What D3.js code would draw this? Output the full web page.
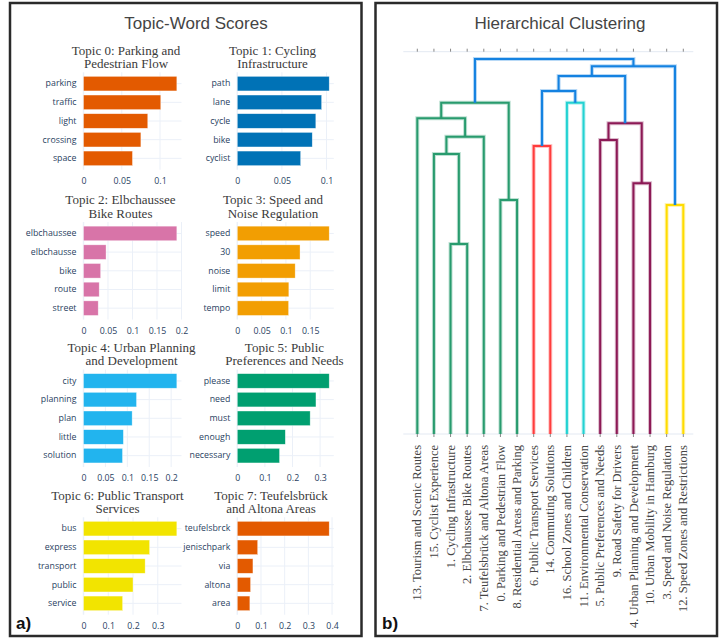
<!DOCTYPE html>
<html><head><meta charset="utf-8">
<script src="https://cdn.jsdelivr.net/npm/d3@7/dist/d3.min.js"></script>
<style>body{margin:0;background:#fff}svg{display:block}</style>
</head><body>
<svg id="chart" width="719" height="639"></svg>
<script>
// ---------- Data: topic-word scores ----------
const topicTitles = [
  ["Topic 0: Parking and", "Pedestrian Flow"],
  ["Topic 1: Cycling", "Infrastructure"],
  ["Topic 2: Elbchaussee", "Bike Routes"],
  ["Topic 3: Speed and", "Noise Regulation"],
  ["Topic 4: Urban Planning", "and Development"],
  ["Topic 5: Public", "Preferences and Needs"],
  ["Topic 6: Public Transport", "Services"],
  ["Topic 7: Teufelsbrück", "and Altona Areas"]
];
const topicWords = [
  ["parking", "traffic", "light", "crossing", "space"],
  ["path", "lane", "cycle", "bike", "cyclist"],
  ["elbchaussee", "elbchausse", "bike", "route", "street"],
  ["speed", "30", "noise", "limit", "tempo"],
  ["city", "planning", "plan", "little", "solution"],
  ["please", "need", "must", "enough", "necessary"],
  ["bus", "express", "transport", "public", "service"],
  ["teufelsbrck", "jenischpark", "via", "altona", "area"]
];
const topicScores = [
  [0.122, 0.101, 0.084, 0.075, 0.064],
  [0.103, 0.0945, 0.088, 0.084, 0.071],
  [0.1905, 0.046, 0.035, 0.032, 0.030],
  [0.189, 0.129, 0.119, 0.106, 0.1055],
  [0.213, 0.121, 0.111, 0.091, 0.089],
  [0.333, 0.285, 0.264, 0.174, 0.153],
  [0.377, 0.267, 0.249, 0.200, 0.158],
  [0.388, 0.086, 0.066, 0.056, 0.053]
];
const topicColors = ["#E35A00", "#0072B6", "#D874A8", "#F29E02", "#22B4EE", "#009F70", "#F2E400", "#E35A00"];
const topicTicks = [
  [0, 0.05, 0.1],
  [0, 0.05, 0.1],
  [0, 0.05, 0.1, 0.15, 0.2],
  [0, 0.05, 0.1, 0.15],
  [0, 0.05, 0.1, 0.15, 0.2],
  [0, 0.1, 0.2, 0.3],
  [0, 0.1, 0.2, 0.3],
  [0, 0.1, 0.2, 0.3, 0.4]
];

// ---------- Data: hierarchical clustering ----------
const leafLabels = [
  "13. Tourism and Scenic Routes",
  "15. Cyclist Experience",
  "1. Cycling Infrastructure",
  "2. Elbchaussee Bike Routes",
  "7. Teufelsbrück and Altona Areas",
  "0. Parking and Pedestrian Flow",
  "8. Residential Areas and Parking",
  "6. Public Transport Services",
  "14. Commuting Solutions",
  "16. School Zones and Children",
  "11. Environmental Conservation",
  "5. Public Preferences and Needs",
  "9. Road Safety for Drivers",
  "4. Urban Planning and Development",
  "10. Urban Mobility in Hamburg",
  "3. Speed and Noise Regulation",
  "12. Speed Zones and Restrictions"
];
// merges: [left node, right node, distance, colour key]; leaves are 0..16, merged nodes get ids 17..
const mergeLeft   = [2, 15, 5, 13, 1, 7, 11, 21, 23, 0, 26, 9, 22, 29, 30, 27];
const mergeRight  = [3, 16, 6, 14, 17, 8, 12, 4, 20, 24, 19, 10, 28, 25, 18, 31];
const mergeDist   = [0.507, 0.611, 0.624, 0.6685, 0.747, 0.768, 0.784, 0.793, 0.8285, 0.842, 0.8835, 0.8835, 0.915, 0.955, 0.9805, 1.0];
const mergeColor  = ["g", "y", "g", "m", "g", "r", "m", "g", "m", "g", "g", "c", "b", "b", "b", "b"];
const clusterColors = {b: "rgb(20,130,225)", c: "rgb(35,210,210)", g: "rgb(40,155,110)", m: "rgb(140,25,85)", r: "rgb(255,60,60)", y: "rgb(255,220,0)"};

// ---------- Drawing ----------
const svg = d3.select("#chart");
const tickFont = "'Open Sans', 'Liberation Sans', Arial, sans-serif";
const serif = "'Liberation Serif', 'Times New Roman', serif";
const sans = "'Liberation Sans', Arial, sans-serif";

// panel frames
svg.append("rect").attr("x", 10).attr("y", 3).attr("width", 351.5).attr("height", 633)
  .attr("fill", "none").attr("stroke", "#2a2a2a").attr("stroke-width", 2.5);
svg.append("rect").attr("x", 375.5).attr("y", 3).attr("width", 341.5).attr("height", 633)
  .attr("fill", "none").attr("stroke", "#2a2a2a").attr("stroke-width", 2.5);

svg.append("text").attr("x", 196).attr("y", 28.5).attr("text-anchor", "middle")
  .style("font-family", sans).style("font-size", "17px").attr("fill", "#444").text("Topic-Word Scores");
svg.append("text").attr("x", 560).attr("y", 28.5).attr("text-anchor", "middle")
  .style("font-family", sans).style("font-size", "17px").attr("fill", "#444").text("Hierarchical Clustering");

svg.append("text").attr("x", 16).attr("y", 629).style("font-family", sans).style("font-weight", "bold")
  .style("font-size", "17px").attr("fill", "#111").text("a)");
svg.append("text").attr("x", 382).attr("y", 629).style("font-family", sans).style("font-weight", "bold")
  .style("font-size", "17px").attr("fill", "#111").text("b)");

// layout of the bar subplots
const colX0 = [83.5, 237.3];
const colW = [98, 96.5];
const rowTop = [82, 231.8, 379.3, 527];
const titleCX = [126, 272.5, 120.5, 273, 131.5, 284.5, 117.5, 271];
const rowStep = 19.5;

topicWords.forEach((words, i) => {
  const col = i % 2, row = Math.floor(i / 2);
  const scores = topicScores[i];
  const x0 = colX0[col], w = colW[col];
  const yTop = rowTop[row] - rowStep / 2;
  const yBot = rowTop[row] + rowStep * (words.length - 1) + rowStep / 2;
  const x = d3.scaleLinear().domain([0, d3.max(scores) * 1.05]).range([x0, x0 + w]);
  const y = d3.scaleBand().domain(words).range([yTop, yBot]).padding(0.22);
  const g = svg.append("g");

  // grid
  g.selectAll("line.vg").data(topicTicks[i]).join("line")
    .attr("x1", d => x(d)).attr("x2", d => x(d)).attr("y1", yTop).attr("y2", yBot)
    .attr("stroke", "#EBF0F8").attr("stroke-width", d => d === 0 ? 1.5 : 1);
  g.selectAll("line.hg").data(words).join("line")
    .attr("x1", x0).attr("x2", x0 + w)
    .attr("y1", d => y(d) + y.bandwidth() / 2).attr("y2", d => y(d) + y.bandwidth() / 2)
    .attr("stroke", "#EBF0F8");

  // bars
  g.selectAll("rect.bar").data(words).join("rect")
    .attr("x", x(0)).attr("y", d => y(d))
    .attr("width", (d, k) => x(scores[k]) - x(0)).attr("height", y.bandwidth())
    .attr("fill", topicColors[i]).attr("stroke", "rgba(255,255,255,0.6)").attr("stroke-width", 0.6);

  // y axis labels
  const ya = d3.axisLeft(y).tickSize(0).tickPadding(7);
  const yg = g.append("g").attr("transform", `translate(${x0},0)`).call(ya);
  yg.select(".domain").remove();
  yg.selectAll("text").style("font-family", tickFont).style("font-size", "8.8px").attr("fill", "#2a3f5f");

  // x axis labels
  const xa = d3.axisBottom(x).tickValues(topicTicks[i]).tickSize(0).tickPadding(0)
    .tickFormat(d => d3.format("~g")(d));
  const xg = g.append("g").attr("transform", `translate(0,${yBot + 8})`).call(xa);
  xg.select(".domain").remove();
  xg.selectAll("text").attr("dy", "0.71em").style("font-family", tickFont).style("font-size", "8.8px").attr("fill", "#2a3f5f");

  // subplot title
  const t = svg.append("text").attr("text-anchor", "middle").style("font-family", serif)
    .style("font-size", "13px").attr("fill", "#3a3a3a");
  topicTitles[i].forEach((line, k) => {
    t.append("tspan").attr("x", titleCX[i]).attr("y", rowTop[row] - 27.5 + k * 13.5).text(line);
  });
});

// ---------- Dendrogram ----------
const dx = d3.scalePoint().domain(d3.range(leafLabels.length)).range([417.3, 683.3]);
const dy = d3.scaleLinear().domain([0, 1.0195]).range([434, 51.7]);
const axisX0 = 403.3, axisX1 = 693.3;

const nodeX = leafLabels.map((_, k) => dx(k));
const nodeH = leafLabels.map(() => 0);
const dg = svg.append("g");

// axis lines (mirrored)
[dy(0), dy(1.0195)].forEach((yy, k) => {
  dg.append("line").attr("x1", axisX0).attr("x2", axisX1).attr("y1", yy).attr("y2", yy)
    .attr("stroke", "#E3E9F2").attr("stroke-width", 1);
  dg.selectAll(null).data(leafLabels).join("line")
    .attr("x1", (d, j) => dx(j)).attr("x2", (d, j) => dx(j))
    .attr("y1", yy).attr("y2", k === 0 ? yy + 3 : yy - 3)
    .attr("stroke", "#888").attr("stroke-width", 1);
});

mergeLeft.forEach((l, m) => {
  const r = mergeRight[m];
  const h = mergeDist[m];
  const xl = nodeX[l], xr = nodeX[r];
  const path = d3.path();
  path.moveTo(xl, dy(nodeH[l]));
  path.lineTo(xl, dy(h));
  path.lineTo(xr, dy(h));
  path.lineTo(xr, dy(nodeH[r]));
  dg.append("path").attr("d", path.toString()).attr("fill", "none")
    .attr("stroke", clusterColors[mergeColor[m]]).attr("stroke-opacity", 0.3).attr("stroke-width", 4);
  dg.append("path").attr("d", path.toString()).attr("fill", "none")
    .attr("stroke", clusterColors[mergeColor[m]]).attr("stroke-width", 2);
  nodeX.push((xl + xr) / 2);
  nodeH.push(h);
});

// leaf labels
dg.selectAll("text.leaf").data(leafLabels).join("text")
  .attr("transform", (d, j) => `translate(${dx(j)},445) rotate(-90)`)
  .attr("text-anchor", "end").attr("dy", "0.33em")
  .style("font-family", serif).style("font-size", "12.5px").attr("fill", "#444")
  .text(d => d);
</script>
</body></html>
